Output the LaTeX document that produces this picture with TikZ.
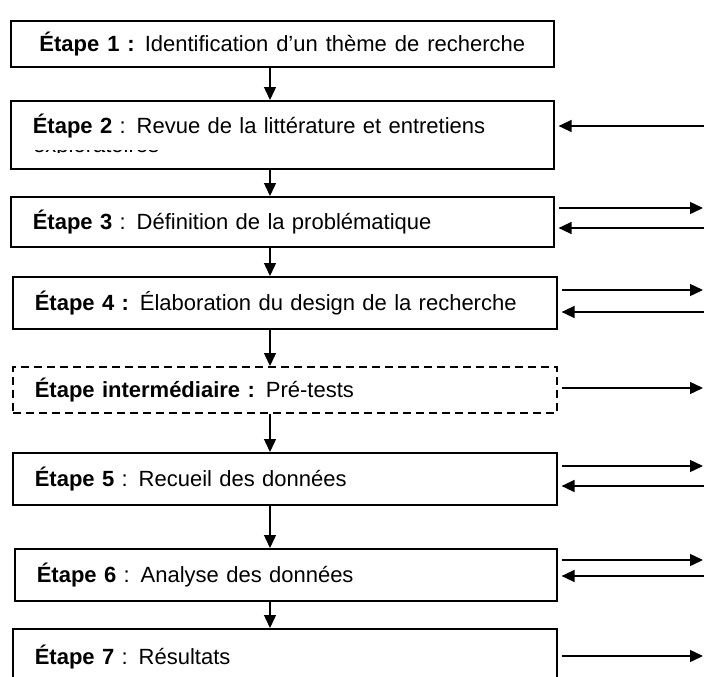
\documentclass[tikz,border=0pt]{standalone}
\usepackage{fontspec}
\setmainfont{Liberation Sans}[WordSpace=1.3]
\usetikzlibrary{arrows.meta}
\begin{document}
\begin{tikzpicture}[x=1pt,y=-1pt,
  stagebox/.style={draw, line width=1.6pt, anchor=north west, inner ysep=0pt,
    text height=18pt, text depth=3pt, font=\fontsize{22}{26}\selectfont},
  leftbox/.style={stagebox, inner xsep=22pt, align=left},
  arr/.style={line width=1.4pt, -{Triangle[length=13pt,width=12pt]}},
  outarr/.style={arr, shorten <=4pt},
  inarr/.style={arr, shorten >=4pt}]
\useasboundingbox (0,0) rectangle (704,677);
\clip (0,0) rectangle (704,677);
% boxes
\node[stagebox, minimum width=543pt, minimum height=46pt] (s1) at (10,20)
  {\textbf{Étape 1 :} Identification d'un thème de recherche};
\node[leftbox, text width=499pt, minimum height=68pt, text depth=20pt] (s2) at (10,100)
  {\textbf{Étape 2} : Revue de la littérature et entretiens};
\begin{scope}
  \clip (20,150) rectangle (220,152.2);
  \node[anchor=base west, inner sep=0pt, font=\fontsize{22}{26}\selectfont] (s2x) at (33,152.5) {exploratoires};
\end{scope}
\node[leftbox, text width=499pt, minimum height=50pt] (s3) at (10,196)
  {\textbf{Étape 3} : Définition de la problématique};
\node[leftbox, text width=500pt, minimum height=52pt] (s4) at (12,276)
  {\textbf{Étape 4 :} Élaboration du design de la recherche};
\node[leftbox, text width=500pt, minimum height=46pt, dashed, dash pattern=on 8pt off 5pt] (si) at (12,366)
  {\textbf{Étape intermédiaire :} Pré-tests};
\node[leftbox, text width=500pt, minimum height=52pt] (s5) at (12,452)
  {\textbf{Étape 5} : Recueil des données};
\node[leftbox, text width=498pt, minimum height=52pt] (s6) at (14,548)
  {\textbf{Étape 6} : Analyse des données};
\node[leftbox, text width=500pt, minimum height=56pt] (s7) at (12,628)
  {\textbf{Étape 7} : Résultats};
% vertical arrows
\coordinate (ax) at (270,0);
\draw[arr] (s1.south -| ax) -- (s2.north -| ax);
\draw[arr] (s2.south -| ax) -- (s3.north -| ax);
\draw[arr] (s3.south -| ax) -- (s4.north -| ax);
\draw[arr] (s4.south -| ax) -- (si.north -| ax);
\draw[arr] (si.south -| ax) -- (s5.north -| ax);
\draw[arr] (s5.south -| ax) -- (s6.north -| ax);
\draw[arr] (s6.south -| ax) -- (s7.north -| ax);
% right-hand arrows
\coordinate (i2) at (704,126);
\coordinate (o3) at (703,208);
\coordinate (i3) at (704,228);
\coordinate (o4) at (703,290);
\coordinate (i4) at (704,312);
\coordinate (oi) at (703,388);
\coordinate (o5) at (703,466);
\coordinate (i5) at (704,486);
\coordinate (o6) at (703,560);
\coordinate (i6) at (704,576);
\coordinate (o7) at (703,656);
\draw[inarr] (i2) -- (s2.east |- i2);
\draw[outarr] (s3.east |- o3) -- (o3);
\draw[inarr] (i3) -- (s3.east |- i3);
\draw[outarr] (s4.east |- o4) -- (o4);
\draw[inarr] (i4) -- (s4.east |- i4);
\draw[outarr] (si.east |- oi) -- (oi);
\draw[outarr] (s5.east |- o5) -- (o5);
\draw[inarr] (i5) -- (s5.east |- i5);
\draw[outarr] (s6.east |- o6) -- (o6);
\draw[inarr] (i6) -- (s6.east |- i6);
\draw[outarr] (s7.east |- o7) -- (o7);
\end{tikzpicture}
\end{document}
